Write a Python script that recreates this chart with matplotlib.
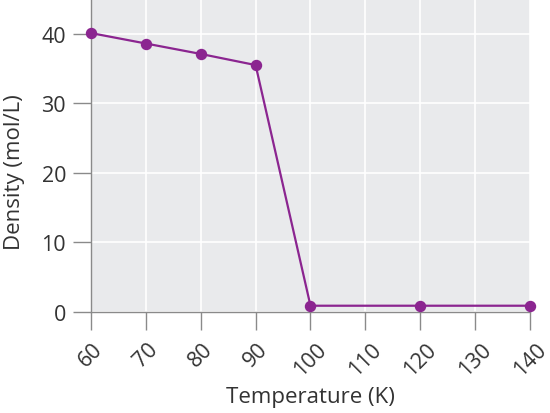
import matplotlib
matplotlib.use("Agg")
import matplotlib.pyplot as plt

# data
temperature = [60, 70, 80, 90, 100, 120, 140]
density = [40.1, 38.6, 37.1, 35.5, 0.9, 0.9, 0.9]
x_ticks = [60, 70, 80, 90, 100, 110, 120, 130, 140]
y_ticks = [0, 10, 20, 30, 40]

plt.rcParams['font.family'] = ['Open Sans', 'DejaVu Sans']

fig = plt.figure(figsize=(5.5, 4.14), dpi=100)
ax = fig.add_axes([0.1655, 0.244, 0.798, 0.756])
ax.set_facecolor('#e9eaec')

ax.plot(temperature, density, color='#8b2590', lw=1.6, marker='o', ms=7.2,
        clip_on=False, zorder=3)

ax.set_xlim(60, 140)
ax.set_ylim(0, 45)
ax.set_xticks(x_ticks)
ax.set_yticks(y_ticks)
ax.grid(True, color='white', lw=1.2)
ax.set_axisbelow(True)

for s in ['top', 'right']:
    ax.spines[s].set_visible(False)
for s in ['left', 'bottom']:
    ax.spines[s].set_color('#8a8a8a')
    ax.spines[s].set_linewidth(1.0)

ax.tick_params(axis='both', colors='#8a8a8a', labelcolor='#333333',
               labelsize=15.5, length=13, width=1.0)
ax.tick_params(axis='x', pad=6)
ax.tick_params(axis='y', pad=5)
plt.setp(ax.get_xticklabels(), rotation=45, ha='center')

ax.set_xlabel('Temperature (K)', fontsize=16, color='#333333', labelpad=5)
ax.set_ylabel('Density (mol/L)', fontsize=16, color='#333333')
ax.yaxis.set_label_coords(-0.15, 0.45)

fig.savefig('out.png', dpi=100)
